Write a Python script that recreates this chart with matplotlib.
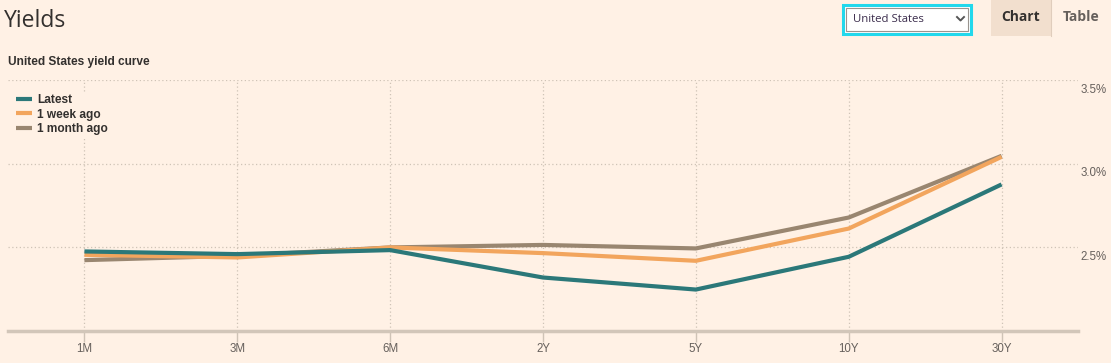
import matplotlib.pyplot as plt
from matplotlib.patches import Rectangle
from matplotlib.transforms import offset_copy

# yield curve data (percent)
maturities = ["1M", "3M", "6M", "2Y", "5Y", "10Y", "30Y"]
latest = [2.476, 2.46, 2.484, 2.32, 2.248, 2.444, 2.877]
week_ago = [2.456, 2.44, 2.50, 2.466, 2.42, 2.613, 3.042]
month_ago = [2.424, 2.45, 2.50, 2.515, 2.494, 2.679, 3.048]

series_names = ["Latest", "1 week ago", "1 month ago"]
series_colors = ["#2b7879", "#f2a55d", "#998670"]

y_ticks = [2.5, 3.0, 3.5]
y_labels = ["2.5%", "3.0%", "3.5%"]

bg = "#fff1e5"
grid_col = "#cfc3b6"
text_col = "#33302e"
muted = "#66605c"

plt.rcParams["font.family"] = ["Liberation Sans", "DejaVu Sans"]

fig = plt.figure(figsize=(11.11, 3.63), dpi=100, facecolor=bg)
W, H = 1111, 363


def fx(px):
    return px / W


def fy(py):
    return 1 - py / H


# header
fig.text(fx(4), fy(21), "Yields", fontsize=16.5, color=text_col,
         family=["Open Sans", "DejaVu Sans"], va="center", ha="left")
fig.text(fx(8), fy(62), "United States yield curve", fontsize=8.6,
         fontweight="bold", color=text_col, va="center", ha="left")

# dropdown box
fig.patches.append(Rectangle((fx(843), fy(34)), fx(128), 29 / H,
                             transform=fig.transFigure, facecolor="white",
                             edgecolor="#22d8ec", linewidth=2.2))
fig.patches.append(Rectangle((fx(846), fy(31)), fx(122), 23 / H,
                             transform=fig.transFigure, facecolor="white",
                             edgecolor="#9a948f", linewidth=0.8))
fig.text(fx(853), fy(19.5), "United States", fontsize=8.2, color="#3b2c4c",
         family=["Open Sans", "DejaVu Sans"], va="center", ha="left")
fig.lines.append(plt.Line2D([fx(957), fx(960.5), fx(964)],
                            [fy(17), fy(20.5), fy(17)],
                            transform=fig.transFigure, color="#555",
                            linewidth=1.4))

# chart / table tabs
fig.patches.append(Rectangle((fx(991), fy(36)), fx(60), 36 / H,
                             transform=fig.transFigure, facecolor="#f2dfce",
                             edgecolor="none"))
fig.lines.append(plt.Line2D([fx(1051), fx(1051)], [fy(0), fy(36)],
                            transform=fig.transFigure, color="#e0cdbc",
                            linewidth=0.8))
fig.text(fx(1021), fy(17), "Chart", fontsize=10, fontweight="bold",
         color=text_col, family=["Open Sans", "DejaVu Sans"],
         va="center", ha="center")
fig.text(fx(1081), fy(17), "Table", fontsize=10, fontweight="bold",
         color=muted, family=["Open Sans", "DejaVu Sans"],
         va="center", ha="center")

# plot area
ax = fig.add_axes([fx(8), fy(331), fx(1078 - 8), (331 - 80.3) / H])
ax.set_facecolor(bg)

x = list(range(len(maturities)))
ax.plot(x, month_ago, color=series_colors[2], linewidth=3, label=series_names[2],
        solid_capstyle="butt", zorder=3)
ax.plot(x, week_ago, color=series_colors[1], linewidth=3, label=series_names[1],
        solid_capstyle="butt", zorder=4)
ax.plot(x, latest, color=series_colors[0], linewidth=3, label=series_names[0],
        solid_capstyle="butt", zorder=5)

ax.set_xlim(-0.5, 6.5)
ax.set_ylim(2.0, 3.5)

ax.set_xticks(x)
ax.set_xticklabels(maturities)
ax.set_yticks(y_ticks)
ax.set_yticklabels(y_labels)
ax.yaxis.tick_right()

ax.tick_params(axis="y", length=0, pad=2, labelsize=8.3, labelcolor=muted)
ax.tick_params(axis="x", length=8, width=1, color=grid_col, pad=1,
               labelsize=8.3, labelcolor=muted)

# nudge y labels a few pixels below their gridlines
for lab in ax.get_yticklabels():
    lab.set_verticalalignment("top")
    lab.set_transform(offset_copy(lab.get_transform(), fig=fig,
                                  x=0, y=-3.5, units="dots"))

ax.grid(True, linestyle=(0, (1, 2)), color=grid_col, linewidth=0.9)
ax.set_axisbelow(True)

for side in ["top", "left", "right"]:
    ax.spines[side].set_visible(False)
ax.spines["bottom"].set_color("#d2c6b9")
ax.spines["bottom"].set_linewidth(2.5)

handles, labels = ax.get_legend_handles_labels()
leg = ax.legend(handles[::-1], labels[::-1], loc="upper left",
                bbox_to_anchor=(0.0, 0.977), frameon=True, facecolor=bg,
                edgecolor="none", framealpha=1, handlelength=1.35,
                handletextpad=0.4, labelspacing=0.18, borderpad=0.2,
                prop={"weight": "bold", "size": 8.6})
for t in leg.get_texts():
    t.set_color(text_col)
for ln in leg.get_lines():
    ln.set_linewidth(3)

fig.savefig("out.png", dpi=100, facecolor=bg)
